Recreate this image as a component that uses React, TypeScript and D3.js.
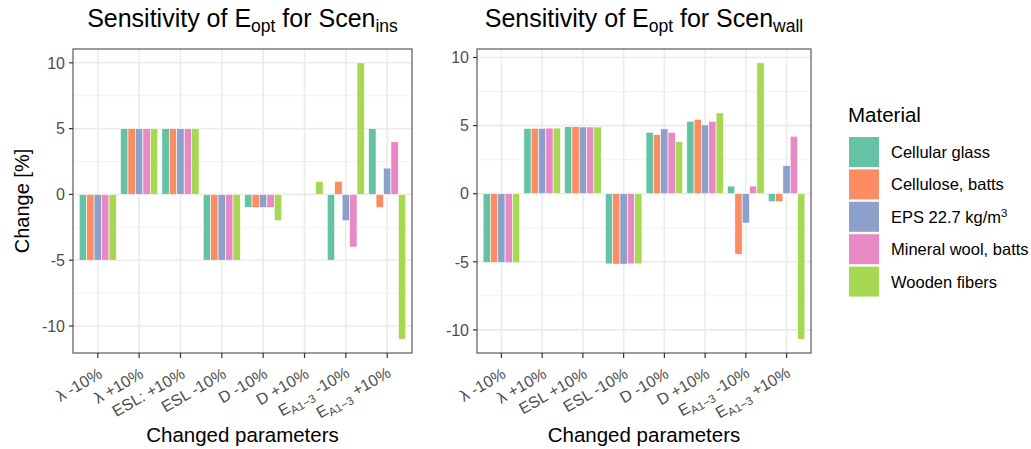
import React from "react";
import * as d3 from "d3";

const materials = ["Cellular glass", "Cellulose, batts", "EPS 22.7 kg/m^3", "Mineral wool, batts", "Wooden fibers"];
const colors = ["#66C2A5", "#FC8D62", "#8DA0CB", "#E78AC3", "#A6D854"];

const categoriesIns = ["λ -10%", "λ +10%", "ESL: +10%", "ESL -10%", "D -10%", "D +10%", "E_{A1−3} -10%", "E_{A1−3} +10%"];
const categoriesWall = ["λ -10%", "λ +10%", "ESL +10%", "ESL -10%", "D -10%", "D +10%", "E_{A1−3} -10%", "E_{A1−3} +10%"];

// values per material, across categories
const insCellularGlass = [-5, 5, 5, -5, -1, 0, -5, 5];
const insCellulose = [-5, 5, 5, -5, -1, 0, 1, -1];
const insEPS = [-5, 5, 5, -5, -1, 0, -2, 2];
const insMineralWool = [-5, 5, 5, -5, -1, 0, -4, 4];
const insWoodenFibers = [-5, 5, 5, -5, -2, 1, 10, -11];

const wallCellularGlass = [-5.05, 4.8, 4.92, -5.15, 4.51, 5.32, 0.56, -0.59];
const wallCellulose = [-5.05, 4.8, 4.92, -5.17, 4.34, 5.46, -4.44, -0.59];
const wallEPS = [-5.05, 4.8, 4.9, -5.17, 4.76, 5.05, -2.15, 2.07];
const wallMineralWool = [-5.07, 4.82, 4.9, -5.15, 4.51, 5.32, 0.56, 4.22];
const wallWoodenFibers = [-5.07, 4.82, 4.9, -5.15, 3.83, 5.93, 9.61, -10.68];

const yTicks = [-10, -5, 0, 5, 10];
const yMinor = [-7.5, -2.5, 2.5, 7.5];

const FONT = "'Liberation Sans', Arial, Helvetica, sans-serif";

function Label({ text }: { text: string }) {
  const m = text.match(/^(.*?)_\{(.*?)\}(.*)$/);
  if (!m) return <>{text}</>;
  return (
    <>
      <tspan>{m[1]}</tspan>
      <tspan fontSize="0.72em" dy="0.3em">{m[2]}</tspan>
      <tspan dy="-0.3em">{m[3]}</tspan>
    </>
  );
}

function Panel({
  series, categories, x0, x1, sub, showYTitle,
}: { series: number[][]; categories: string[]; x0: number; x1: number; sub: string; showYTitle: boolean }) {
  const top = 49, bottom = 353;
  const all = series.flat();
  const mn = Math.min(0, d3.min(all)!), mx = Math.max(0, d3.max(all)!);
  const pad = (mx - mn) * 0.05;
  const y = d3.scaleLinear().domain([mn - pad, mx + pad]).range([bottom, top]);
  // ggplot discrete expansion: 0.6 units each side
  const n = categories.length;
  const step = (x1 - x0) / (n - 1 + 1.2);
  const cx = (i: number) => x0 + step * (0.6 + i);
  const groupW = step * 0.9;
  const barW = groupW / series.length;
  const inner = d3.scaleBand().domain(d3.range(series.length).map(String)).range([0, groupW]);
  const midX = (x0 + x1) / 2;
  return (
    <g fontFamily={FONT}>
      <text x={midX} y={27} textAnchor="middle" fontSize={25} fill="#000">
        <tspan>Sensitivity of E</tspan>
        <tspan fontSize={17.5} dy={5}>opt</tspan>
        <tspan dy={-5}> for Scen</tspan>
        <tspan fontSize={17.5} dy={5}>{sub}</tspan>
      </text>
      <rect x={x0} y={top} width={x1 - x0} height={bottom - top} fill="#fff" />
      {yMinor.map((t) => (
        <line key={"m" + t} x1={x0} x2={x1} y1={y(t)} y2={y(t)} stroke="#F2F2F2" strokeWidth={1} />
      ))}
      {yTicks.map((t) => (
        <line key={"g" + t} x1={x0} x2={x1} y1={y(t)} y2={y(t)} stroke="#EBEBEB" strokeWidth={1.6} />
      ))}
      {categories.map((c, i) => (
        <line key={"v" + i} x1={cx(i)} x2={cx(i)} y1={top} y2={bottom} stroke="#EBEBEB" strokeWidth={1.6} />
      ))}
      {series.map((vals, s) =>
        vals.map((v, i) =>
          v === 0 ? null : (
            <rect
              key={s + "-" + i}
              x={cx(i) - groupW / 2 + inner(String(s))!}
              y={Math.min(y(v), y(0))}
              width={barW}
              height={Math.abs(y(v) - y(0))}
              fill={colors[s]}
              stroke="#fff"
              strokeWidth={0.6}
            />
          )
        )
      )}
      <rect x={x0} y={top} width={x1 - x0} height={bottom - top} fill="none" stroke="#5a5a5a" strokeWidth={1.2} />
      {yTicks.map((t) => (
        <g key={"yt" + t}>
          <line x1={x0 - 4} x2={x0} y1={y(t)} y2={y(t)} stroke="#333" strokeWidth={1.2} />
          <text x={x0 - 8} y={y(t)} dy="0.36em" textAnchor="end" fontSize={16} fill="#4D4D4D">{t}</text>
        </g>
      ))}
      {categories.map((c, i) => (
        <g key={"xt" + i}>
          <line x1={cx(i)} x2={cx(i)} y1={bottom} y2={bottom + 5} stroke="#333" strokeWidth={1.2} />
          <text
            transform={`translate(${cx(i) + 5.5},${bottom + 24}) rotate(-30)`}
            textAnchor="end"
            fontSize={16}
            fill="#4D4D4D"
          >
            <Label text={c} />
          </text>
        </g>
      ))}
      <text x={midX} y={442} textAnchor="middle" fontSize={20.5} fill="#000">Changed parameters</text>
      {showYTitle && (
        <text transform={`translate(29,${(top + bottom) / 2}) rotate(-90)`} textAnchor="middle" fontSize={20} fill="#000">
          Change [%]
        </text>
      )}
    </g>
  );
}

export default function App() {
  const ins = [insCellularGlass, insCellulose, insEPS, insMineralWool, insWoodenFibers];
  const wall = [wallCellularGlass, wallCellulose, wallEPS, wallMineralWool, wallWoodenFibers];
  const legY = d3.scaleBand().domain(materials).range([136, 136 + 32.4 * materials.length]);
  return (
    <svg width={1031} height={449} style={{ position: "absolute", left: 0, top: 0 }}>
      <rect width={1031} height={449} fill="#fff" />
      <Panel series={ins} categories={categoriesIns} x0={73} x1={412} sub="ins" showYTitle={true} />
      <Panel series={wall} categories={categoriesWall} x0={477} x1={811} sub="wall" showYTitle={false} />
      <g fontFamily={FONT}>
        <text x={848} y={122} fontSize={20.5} fill="#000">Material</text>
        {materials.map((m, i) => {
          const yy = legY(m)!;
          const parts = m.split("^");
          return (
            <g key={m}>
              <rect x={849} y={yy + 1} width={30} height={30} fill={colors[i]} />
              <text x={891} y={yy + 16} dy="0.36em" fontSize={16.5} fill="#000">
                {parts[0]}
                {parts[1] && <tspan fontSize={11.5} dy={-6}>{parts[1]}</tspan>}
              </text>
            </g>
          );
        })}
      </g>
    </svg>
  );
}
